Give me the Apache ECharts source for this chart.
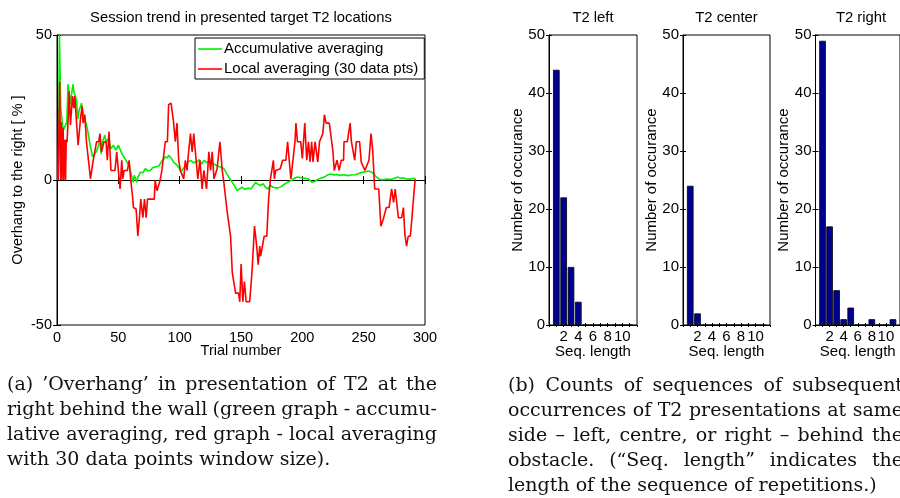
<!DOCTYPE html>
<html><head><meta charset="utf-8">
<script src="https://cdn.jsdelivr.net/npm/echarts@6/dist/echarts.min.js"></script>
<style>html,body{margin:0;padding:0;background:#fff}#c{width:900px;height:498px}</style>
</head><body><div id="c"></div><script>
// ---- Data ----
const trendTitle = 'Session trend in presented target T2 locations';
const accTrials = [1,2,3,4,5,6,7,8,9,10,11,12,13,14,15,16,17,18,20,21,22,24,25,27,29,30,32,34,35,36,37,39,40,42,44,46,48,50,51,53,54,56,57,59,60,62,63,64,65,66,68,70,72,74,76,78,80,81,83,85,87,88,90,91,93,95,97,100,101,103,105,107,109,111,114,116,118,120,122,125,128,131,133,136,140,144,147,149,151,153,156,158,160,162,164,166,168,170,172,174,176,180,183,186,188,191,193,196,199,202,205,208,210,213,216,218,220,223,226,228,231,234,237,240,243,245,248,251,254,256,258,260,263,266,269,272,275,278,280,282,284,287,290,292];
const accValues = [0,50,25,25,17,18,19,20,33,33,26,30,33,30,29,27,21,24,26.5,23.6,24,19,17,12,8,7.4,9.7,12,14.3,9,13,15.5,13,14.3,10.8,12,10.3,12,11.4,9,8.5,7,6.2,5,3,-0.8,1.6,0.5,-0.8,1,2.7,2.5,3.9,3.2,3.3,4.2,4.5,5,4.8,6.2,7.2,8,7.6,8.5,7.6,6.2,5.5,3.9,2.7,4,5,6.2,6.8,6,6.2,7,5.5,6.8,6,6.2,5.5,4.8,4.5,3.9,1,-1.5,-3.7,-3,-2.5,-3.2,-2.8,-3.1,-2,-0.8,-1.5,-1.9,-1.3,-2.5,-3.1,-1.9,-2.5,-2.8,-2.2,-1.3,-0.8,-0.2,0.5,1,0.8,0.6,0.4,-0.8,-0.5,0.3,0.8,1,1.6,2.1,1.7,1.9,1.6,1.8,1.5,1.7,1.8,2.1,2.6,2.8,3.1,2.8,2.2,1.2,0.2,0.1,0.3,0.2,0.6,1,0.6,0.8,0.4,0.3,0.5,0.6];
const locTrials = [1,2,2.2,3,3.5,4,5,5.5,6.5,7,7.5,8.2,9,9.9,11,12.6,13.7,14.5,15.9,17.2,19.2,20.5,21.3,22.7,24,27.3,29.5,31,32.3,34,35,36.3,38.3,40,41,42.4,44,47.3,48.7,50,51.4,52.8,53.6,54.7,57.4,58.8,60,61.8,62.3,64.5,65.9,67.2,68.3,70,71.3,72.7,73.8,79.3,80,81.5,83,84,85.5,86.9,88.3,90,91,93,95,96.5,97.8,99.2,100.6,102,103.3,104.6,106,107.3,108.8,110.2,111.5,112.8,114.8,116.5,118.3,119.7,121.9,123.8,125.2,126.5,128,130.5,132.8,134.7,136,138.8,141.5,142.9,145.6,148,149,150.1,151.5,152.8,154.2,157.1,159,161,162.8,164,165.3,166,168.9,171,172.5,174,176.4,177.2,178.3,182,183.9,186.6,188,189.3,190.7,194,194.8,196,198.7,200,202,203.6,205,206.3,207.6,208.7,210.4,212.6,214,216.7,218,219.4,222,225,226,228.3,230,231.7,233.6,234,236.7,239,240,242.7,244,246.7,248,251,254.3,256,257.4,259,262.3,264,266,268.5,270.7,272.8,274.4,275.7,277,278.3,281,282.4,283.6,285,286.3,288,289.4,290,292];
const locValues = [0,0,33.8,0,20,0,18,0,14,0,14,13,20,30.6,19,28.9,24.8,28.9,20,12,21.3,25.4,19.6,22.5,13.2,0.4,6.8,6.8,13.2,13.2,16,9.7,13.2,13.2,6.8,16.7,3.3,3.3,9.7,3.3,-3.1,6.8,0.4,3.3,3.3,6.8,0.4,-6.5,-9.5,-10,-19.3,-13,-6.6,-13,-6.6,-13,-6.6,-6.6,-0.2,-3.7,-3.7,-0.2,3.3,3.3,13.2,13.2,26,26.5,20,13.2,19.6,6.8,3.3,3.3,0.4,6.8,3.3,9.7,16,9.7,16,9.7,0.4,6.8,-3.1,3.3,-3.1,9.7,3.3,9.7,0.4,3.9,13.2,3.3,-0.8,-11.2,-19.4,-32,-39,-39,-42,-29,-42,-35,-42,-42,-31.5,-15.9,-22.8,-29.2,-22.8,-26.3,-19.4,-19.4,-6.5,0.4,6.8,0.4,3.3,3.9,6.8,6.8,13.2,6.8,0.4,13.2,19.6,13.2,13.2,7.4,19.6,6.8,13.2,6.2,13.2,6.2,13.2,6.2,13.2,16,22.5,19.6,19.6,9.7,3.3,6.8,3.3,6.8,6.8,13.2,13.2,19.6,13.2,6.8,13.2,13.2,6.2,3.3,6.8,16,10,-3.1,-3.1,-15.9,-13.5,-9.5,-9.5,-3.1,-7.7,-3.1,-3.1,-13,-13,-9.5,-18.8,-22.8,-19.4,-19.4,-13,-9.5,0.4];
const seqLength = [1,2,3,4,5,6,7,8,9,10,11];
const countsLeft = [44,22,10,4,0,0,0,0,0,0,0];
const countsCenter = [24,2,0,0,0,0,0,0,0,0,0];
const countsRight = [49,17,6,1,3,0,0,1,0,0,1];
const panelTitles = ['T2 left','T2 center','T2 right'];
const captionA = ["(a) \u2019Overhang\u2019 in presentation of T2 at the","right behind the wall (green graph - accumu-","lative averaging, red graph - local averaging","with 30 data points window size)."];
const captionB = ["(b) Counts of sequences of subsequent","occurrences of T2 presentations at same","side \u2013 left, centre, or right \u2013 behind the","obstacle. (\u201cSeq. length\u201d indicates the","length of the sequence of repetitions.)"];

// ---- Chart ----
const SANS = 'Liberation Sans, Arial, sans-serif';
const chart = echarts.init(document.getElementById('c'));
const zip = (a, b) => a.map((v, i) => [v, b[i]]);

const grids = [
  {left: 57, top: 35, width: 368, height: 290},
  {left: 549, top: 35, width: 88, height: 290},
  {left: 683, top: 35, width: 87, height: 290},
  {left: 815.5, top: 35, width: 88, height: 290}
].map(g => Object.assign({show: true, borderColor: '#000', borderWidth: 1, backgroundColor: '#fff'}, g));

const lab = (sz) => ({color: '#000', fontFamily: SANS, fontSize: sz});
const xAxes = [], yAxes = [];
// trend panel
xAxes.push({type: 'value', gridIndex: 0, min: 0, max: 300, interval: 50,
  name: 'Trial number', nameLocation: 'middle', nameGap: 18, nameMoveOverlap: false, nameTextStyle: lab(14.5),
  axisLine: {lineStyle: {color: '#000'}}, axisTick: {inside: true, length: 4, lineStyle: {color: '#000'}},
  axisLabel: Object.assign({margin: 5}, lab(14.5)), splitLine: {show: false}});
xAxes.push({type: 'value', gridIndex: 0, position: 'top', min: 0, max: 300, interval: 50,
  axisLine: {lineStyle: {color: '#000'}}, axisTick: {inside: true, length: 4, lineStyle: {color: '#000'}},
  axisLabel: {show: false}, splitLine: {show: false}});
yAxes.push({type: 'value', gridIndex: 0, min: -50, max: 50, interval: 50,
  name: 'Overhang to the right [ % ]', nameLocation: 'middle', nameGap: 32, nameMoveOverlap: false, nameTextStyle: lab(14.5),
  axisLine: {lineStyle: {color: '#000'}}, axisTick: {inside: true, length: 4, lineStyle: {color: '#000'}},
  axisLabel: Object.assign({margin: 5}, lab(14.5)), splitLine: {show: false}});
yAxes.push({type: 'value', gridIndex: 0, position: 'right', min: -50, max: 50, interval: 50,
  axisLine: {lineStyle: {color: '#000'}}, axisTick: {inside: true, length: 4, lineStyle: {color: '#000'}},
  axisLabel: {show: false}, splitLine: {show: false}});
// histogram panels
for (let p = 1; p <= 3; p++) {
  xAxes.push({type: 'value', gridIndex: p, min: 0, max: 12, interval: 1,
    name: 'Seq. length', nameLocation: 'middle', nameGap: 19, nameMoveOverlap: false, nameTextStyle: lab(15),
    axisLine: {lineStyle: {color: '#000'}}, axisTick: {inside: true, length: 2, lineStyle: {color: '#000'}},
    axisLabel: Object.assign({margin: 4, showMinLabel: false, showMaxLabel: false,
      formatter: v => (v > 0 && v < 12 && v % 2 === 0) ? String(v) : ''}, lab(15)), splitLine: {show: false}});
  xAxes.push({type: 'value', gridIndex: p, position: 'top', min: 0, max: 12, interval: 1,
    axisLine: {lineStyle: {color: '#000'}}, axisTick: {inside: true, length: 2, lineStyle: {color: '#000'}},
    axisLabel: {show: false}, splitLine: {show: false}});
  yAxes.push({type: 'value', gridIndex: p, min: 0, max: 50, interval: 10,
    name: 'Number of occurance', nameLocation: 'middle', nameGap: 24, nameMoveOverlap: false, nameTextStyle: lab(15),
    axisLine: {lineStyle: {color: '#000'}}, axisTick: {inside: true, length: 3, lineStyle: {color: '#000'}},
    axisLabel: Object.assign({margin: 4}, lab(15)), splitLine: {show: false}});
  yAxes.push({type: 'value', gridIndex: p, position: 'right', min: 0, max: 50, interval: 10,
    axisLine: {lineStyle: {color: '#000'}}, axisTick: {inside: true, length: 3, lineStyle: {color: '#000'}},
    axisLabel: {show: false}, splitLine: {show: false}});
}

const series = [
  {name: 'Accumulative averaging', type: 'line', xAxisIndex: 0, yAxisIndex: 0, data: zip(accTrials, accValues),
   symbol: 'none', lineStyle: {color: '#00ee00', width: 1.6}, itemStyle: {color: '#00ee00'}, animation: false},
  {name: 'Local averaging (30 data pts)', type: 'line', xAxisIndex: 0, yAxisIndex: 0, data: zip(locTrials, locValues),
   symbol: 'none', lineStyle: {color: '#ff0000', width: 1.6}, itemStyle: {color: '#ff0000'}, animation: false}
];
[countsLeft, countsCenter, countsRight].forEach((counts, i) => {
  series.push({type: 'bar', xAxisIndex: 2 + i * 2, yAxisIndex: 2 + i * 2, data: zip(seqLength, counts),
    barWidth: 6.6, itemStyle: {color: '#00008f', borderColor: '#000', borderWidth: 0.8}, animation: false});
});

// captions laid out word by word (justified like the typeset original)
const capFont = 'DejaVu Serif';
const capSize = 19;
function caption(lines, x0, width, y0, lh) {
  const ctx = document.createElement('canvas').getContext('2d');
  ctx.font = capSize + 'px "' + capFont + '"';
  const space = ctx.measureText(' ').width;
  const els = [];
  lines.forEach((line, i) => {
    const words = line.split(' ');
    const ws = words.map(w => ctx.measureText(w).width);
    const sum = ws.reduce((a, b) => a + b, 0);
    const last = i === lines.length - 1;
    let gap = (!last && words.length > 1) ? (width - sum) / (words.length - 1) : space;
    if (gap < 3) gap = 3;
    let x = x0;
    words.forEach((w, j) => {
      els.push({type: 'text', x: x, y: y0 + i * lh, silent: true,
        style: {text: w, fontFamily: capFont, fontSize: capSize, fill: '#111', verticalAlign: 'middle'}});
      x += ws[j] + gap;
    });
  });
  return els;
}
const titleEl = (t, cx) => ({type: 'text', x: cx, y: 18, silent: true,
  style: {text: t, fontFamily: SANS, fontSize: 14.8, fill: '#000', align: 'center', verticalAlign: 'middle'}});

const graphics = [
  titleEl(trendTitle, 241),
  titleEl(panelTitles[0], 593),
  titleEl(panelTitles[1], 726.5),
  titleEl(panelTitles[2], 861)
].concat(caption(captionA, 7, 430, 385, 25), caption(captionB, 508, 395, 386.5, 25));

chart.setOption({
  animation: false,
  backgroundColor: '#fff',
  grid: grids,
  xAxis: xAxes,
  yAxis: yAxes,
  legend: {data: ['Accumulative averaging', 'Local averaging (30 data pts)'], orient: 'vertical',
    left: 195, top: 38, padding: [3, 6, 2, 3], itemGap: 4, itemWidth: 24, itemHeight: 1.6, icon: 'rect',
    backgroundColor: '#fff', borderColor: '#000', borderWidth: 1, borderRadius: 0,
    textStyle: {color: '#000', fontFamily: SANS, fontSize: 15, lineHeight: 16, padding: [0, 0, 0, -3]}},
  series: series,
  graphic: graphics
});
</script></body></html>
